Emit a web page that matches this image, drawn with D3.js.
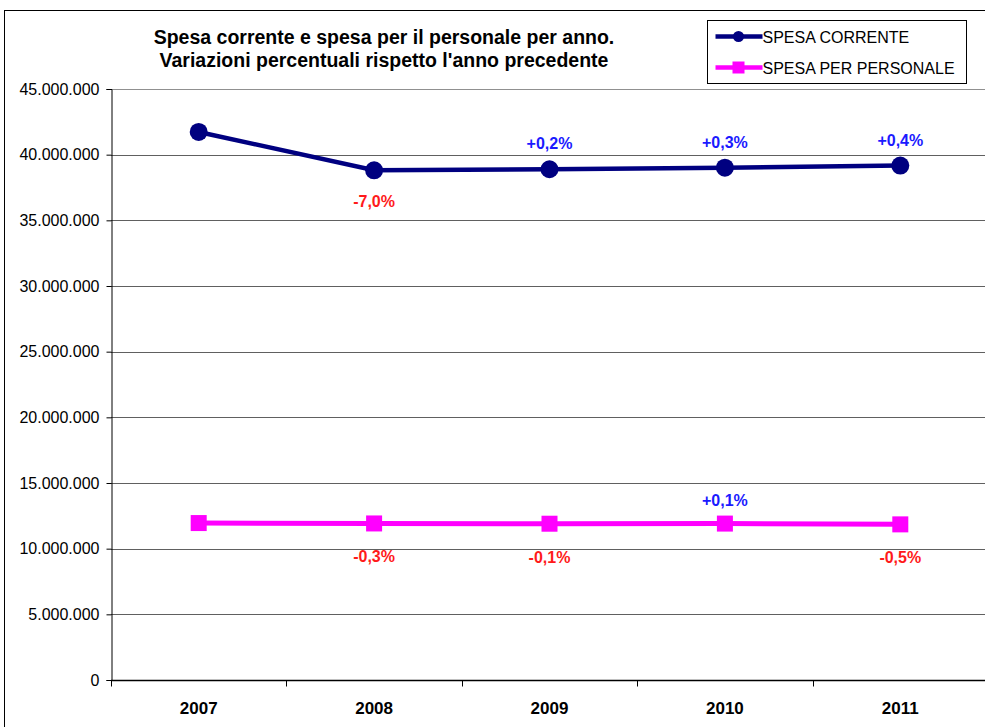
<!DOCTYPE html>
<html>
<head>
<meta charset="utf-8">
<script src="https://cdn.jsdelivr.net/npm/d3@7"></script>
<style>
  body { margin: 0; background: #fff; }
  svg { display: block; font-family: Arial, "Liberation Sans", sans-serif; }
</style>
</head>
<body>
<div id="chart"></div>
<script>
// data
const years = ["2007", "2008", "2009", "2010", "2011"];
const spesaCorrente = [41730000, 38810000, 38890000, 39010000, 39170000];
const spesaPersonale = [11950000, 11920000, 11900000, 11910000, 11850000];
const labelsCorrente = [null, "-7,0%", "+0,2%", "+0,3%", "+0,4%"];
const labelsPersonale = [null, "-0,3%", "-0,1%", "+0,1%", "-0,5%"];
const yTicks = [0, 5000000, 10000000, 15000000, 20000000, 25000000, 30000000, 35000000, 40000000, 45000000];
const seriesNames = ["SPESA CORRENTE", "SPESA PER PERSONALE"];

const W = 985, H = 727;
const margin = {top: 89, left: 111, right: -3, bottom: 47};
const width = W - margin.left - margin.right;
const height = H - margin.top - margin.bottom;

const svg = d3.select("#chart").append("svg")
    .attr("width", W)
    .attr("height", H);

// outer chart border
svg.append("rect")
    .attr("x", 4.5).attr("y", 10.5)
    .attr("width", W + 10).attr("height", H + 10)
    .attr("fill", "none").attr("stroke", "#000").attr("stroke-width", 1);

const g = svg.append("g")
    .attr("transform", `translate(${margin.left},${margin.top})`);

const x = d3.scaleBand()
    .domain(years)
    .range([0, width]);

const y = d3.scaleLinear()
    .domain([0, 45000000])
    .range([height, 0]);

const fmt = v => v === 0 ? "0" : d3.format(",")(v).replace(/,/g, ".");

// gridlines
g.selectAll(".grid")
    .data(yTicks.filter(d => d > 0))
    .enter().append("line")
    .attr("x1", 0).attr("x2", width)
    .attr("y1", d => Math.round(y(d)) + 0.5)
    .attr("y2", d => Math.round(y(d)) + 0.5)
    .attr("stroke", d => d === 45000000 ? "#909090" : "#606060")
    .attr("stroke-width", 1);

// y axis
const yAxis = g.append("g")
    .attr("transform", "translate(0.5,0)")
    .call(d3.axisLeft(y).tickValues(yTicks).tickFormat(fmt).tickSize(5).tickPadding(7));
yAxis.selectAll("text").attr("font-size", 16).attr("fill", "#000").style("font-family", "Arial, 'Liberation Sans', sans-serif");
yAxis.selectAll("line").attr("stroke", "#000");
yAxis.select(".domain").attr("stroke", "#000");

// x axis with ticks on category boundaries
const xAxisG = g.append("g")
    .attr("transform", `translate(0,${height + 0.5})`);
xAxisG.append("line")
    .attr("x1", 0).attr("x2", width)
    .attr("stroke", "#000").attr("stroke-width", 1.5);
xAxisG.selectAll(".tk")
    .data(years)
    .enter().append("line")
    .attr("x1", d => Math.round(x(d)) + 0.5)
    .attr("x2", d => Math.round(x(d)) + 0.5)
    .attr("y1", 0).attr("y2", 6)
    .attr("stroke", "#000");
xAxisG.selectAll(".lbl")
    .data(years)
    .enter().append("text")
    .attr("x", d => x(d) + x.bandwidth() / 2)
    .attr("y", 33)
    .attr("text-anchor", "middle")
    .attr("font-size", 17)
    .attr("font-weight", "bold")
    .text(d => d);

const line = d3.line()
    .x((d, i) => x(years[i]) + x.bandwidth() / 2)
    .y(d => y(d));

// spesa per personale
g.append("path")
    .datum(spesaPersonale)
    .attr("d", line)
    .attr("fill", "none")
    .attr("stroke", "#ff00ff")
    .attr("stroke-width", 5);
g.selectAll(".sq")
    .data(spesaPersonale)
    .enter().append("rect")
    .attr("x", (d, i) => x(years[i]) + x.bandwidth() / 2 - 8)
    .attr("y", d => y(d) - 8)
    .attr("width", 16).attr("height", 16)
    .attr("fill", "#ff00ff");

// spesa corrente
g.append("path")
    .datum(spesaCorrente)
    .attr("d", line)
    .attr("fill", "none")
    .attr("stroke", "#000080")
    .attr("stroke-width", 4.5);
g.selectAll(".dot")
    .data(spesaCorrente)
    .enter().append("circle")
    .attr("cx", (d, i) => x(years[i]) + x.bandwidth() / 2)
    .attr("cy", d => y(d))
    .attr("r", 9)
    .attr("fill", "#000080");

// percentage labels
function pctLabels(values, labels, up, down) {
    g.selectAll(null)
        .data(labels.map((l, i) => ({l, v: values[i], i})).filter(d => d.l))
        .enter().append("text")
        .attr("x", d => x(years[d.i]) + x.bandwidth() / 2)
        .attr("y", d => d.l[0] === "+" ? y(d.v) - up : y(d.v) + down)
        .attr("text-anchor", "middle")
        .attr("font-size", 16)
        .attr("font-weight", "bold")
        .attr("fill", d => d.l[0] === "+" ? "#1a1aff" : "#ff1a1a")
        .text(d => d.l);
}
pctLabels(spesaCorrente, labelsCorrente, 20, 37);
pctLabels(spesaPersonale, labelsPersonale, 18, 39);

// title
const title = svg.append("text")
    .attr("x", 384)
    .attr("text-anchor", "middle")
    .attr("font-size", 19.5)
    .attr("font-weight", "bold");
title.append("tspan").attr("x", 384).attr("y", 44).text("Spesa corrente e spesa per il personale per anno.");
title.append("tspan").attr("x", 384).attr("y", 67).text("Variazioni percentuali rispetto l'anno precedente");

// legend
const legend = svg.append("g").attr("transform", "translate(707.5,20.5)");
legend.append("rect")
    .attr("width", 259).attr("height", 63)
    .attr("fill", "#fff").attr("stroke", "#000");
const colors = ["#000080", "#ff00ff"];
seriesNames.forEach((name, i) => {
    const ly = 16 + i * 31;
    legend.append("line")
        .attr("x1", 8).attr("x2", 55)
        .attr("y1", ly).attr("y2", ly)
        .attr("stroke", colors[i]).attr("stroke-width", 4.5);
    if (i === 0) {
        legend.append("circle").attr("cx", 31).attr("cy", ly).attr("r", 5.5).attr("fill", colors[i]);
    } else {
        legend.append("rect").attr("x", 25).attr("y", ly - 6).attr("width", 12).attr("height", 12).attr("fill", colors[i]);
    }
    legend.append("text")
        .attr("x", 55).attr("y", ly + 6)
        .attr("font-size", 16)
        .text(name);
});
</script>
</body>
</html>
